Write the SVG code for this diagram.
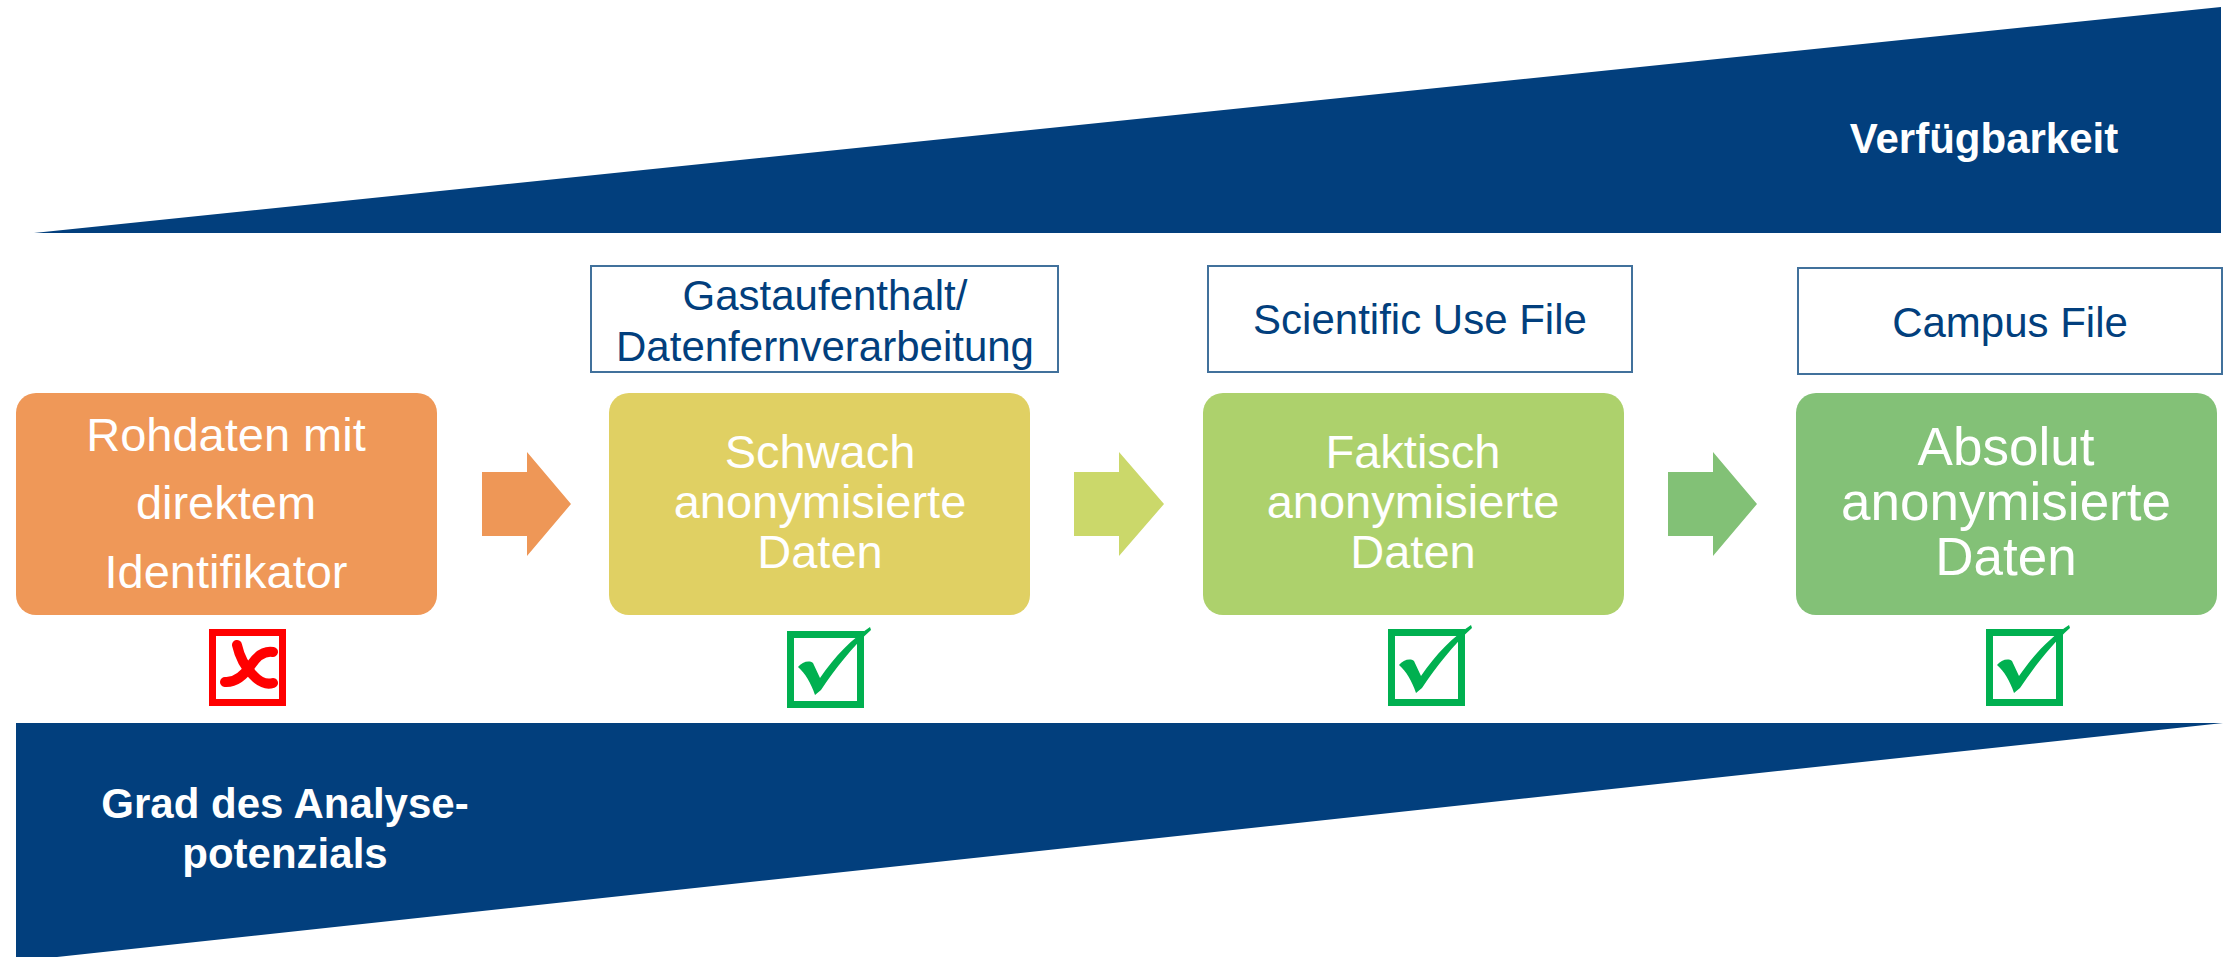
<svg xmlns="http://www.w3.org/2000/svg" xmlns:xlink="http://www.w3.org/1999/xlink" width="2236" height="957" viewBox="0 0 2236 957">
  <style>
    .band { fill: #023F7D; }
    .bandtxt { font-family: "Liberation Sans", Arial, sans-serif; font-weight: bold; font-size: 42px; fill: #FFFFFF; text-anchor: middle; }
    .cap { fill: #FFFFFF; stroke: #41719C; stroke-width: 2; }
    .captxt { font-family: "Liberation Sans", Arial, sans-serif; font-size: 42px; fill: #023F7D; text-anchor: middle; }
    .nodetxt { font-family: "Liberation Sans", Arial, sans-serif; font-size: 47px; fill: #FFFFFF; text-anchor: middle; }
    .ok { fill: none; stroke: #00B050; stroke-width: 7; }
    .no { fill: none; stroke: #FF0000; stroke-width: 7; }
    .xs { fill: none; stroke: #FF0000; stroke-width: 10; stroke-linecap: round; }
  </style>
  <defs>
    <path id="checkmark" fill="#00B050" d="M 11 36 C 15 31 22 29 26 32 L 33 47 C 48 25 65 8 83 -4 L 84 -1 C 66 15 48 38 34 59 L 28 64 C 24 52 18 42 11 36 Z"/>
  </defs>

  <g id="band-top">
    <polygon class="band" points="34,233 2221,7 2221,233"/>
    <text class="bandtxt" x="1984" y="153">Verfügbarkeit</text>
  </g>

  <g id="band-bottom">
    <polygon class="band" points="16,723 2223,723 57,957 16,957"/>
    <text class="bandtxt" x="285" y="818">Grad des Analyse-</text>
    <text class="bandtxt" x="285" y="868">potenzials</text>
  </g>

  <g id="caption-gast">
    <rect class="cap" x="591" y="266" width="467" height="106"/>
    <text class="captxt" x="825" y="310">Gastaufenthalt/</text>
    <text class="captxt" x="825" y="361">Datenfernverarbeitung</text>
  </g>
  <g id="caption-suf">
    <rect class="cap" x="1208" y="266" width="424" height="106"/>
    <text class="captxt" x="1420" y="334">Scientific Use File</text>
  </g>
  <g id="caption-cf">
    <rect class="cap" x="1798" y="268" width="424" height="106"/>
    <text class="captxt" x="2010" y="337">Campus File</text>
  </g>

  <g id="node-rohdaten">
    <rect x="16" y="393" width="421" height="222" rx="20" fill="#EF9858"/>
    <text class="nodetxt" x="226" y="451">Rohdaten mit</text>
    <text class="nodetxt" x="226" y="519">direktem</text>
    <text class="nodetxt" x="226" y="588">Identifikator</text>
  </g>
  <g id="node-schwach">
    <rect x="609" y="393" width="421" height="222" rx="20" fill="#E0D063"/>
    <text class="nodetxt" x="820" y="468">Schwach</text>
    <text class="nodetxt" x="820" y="518">anonymisierte</text>
    <text class="nodetxt" x="820" y="568">Daten</text>
  </g>
  <g id="node-faktisch">
    <rect x="1203" y="393" width="421" height="222" rx="20" fill="#ADD16C"/>
    <text class="nodetxt" x="1413" y="468">Faktisch</text>
    <text class="nodetxt" x="1413" y="518">anonymisierte</text>
    <text class="nodetxt" x="1413" y="568">Daten</text>
  </g>
  <g id="node-absolut">
    <rect x="1796" y="393" width="421" height="222" rx="20" fill="#83C177"/>
    <text class="nodetxt" x="2006" y="465" style="font-size:53px">Absolut</text>
    <text class="nodetxt" x="2006" y="520" style="font-size:53px">anonymisierte</text>
    <text class="nodetxt" x="2006" y="575" style="font-size:53px">Daten</text>
  </g>

  <g id="connectors">
    <polygon fill="#EE9757" points="482,472 527,472 527,452 571,504 527,556 527,536 482,536"/>
    <polygon fill="#CBD86A" points="1074,472 1119,472 1119,452 1164,504 1119,556 1119,536 1074,536"/>
    <polygon fill="#82C176" points="1668,472 1713,472 1713,452 1757,504 1713,556 1713,536 1668,536"/>
  </g>

  <g id="mark-rohdaten" transform="translate(209,629)">
    <rect class="no" x="3.5" y="3.5" width="70" height="70"/>
    <path class="xs" d="M 28 16 Q 32 34 44 46 Q 54 57 64 54"/>
    <path class="xs" d="M 64 23 Q 52 21 42 36 Q 30 54 16 53"/>
  </g>
  <g id="mark-schwach" transform="translate(787,631)">
    <rect class="ok" x="3.5" y="3.5" width="70" height="70"/>
    <use xlink:href="#checkmark"/>
  </g>
  <g id="mark-faktisch" transform="translate(1388,629)">
    <rect class="ok" x="3.5" y="3.5" width="70" height="70"/>
    <use xlink:href="#checkmark"/>
  </g>
  <g id="mark-absolut" transform="translate(1986,629)">
    <rect class="ok" x="3.5" y="3.5" width="70" height="70"/>
    <use xlink:href="#checkmark"/>
  </g>
</svg>
